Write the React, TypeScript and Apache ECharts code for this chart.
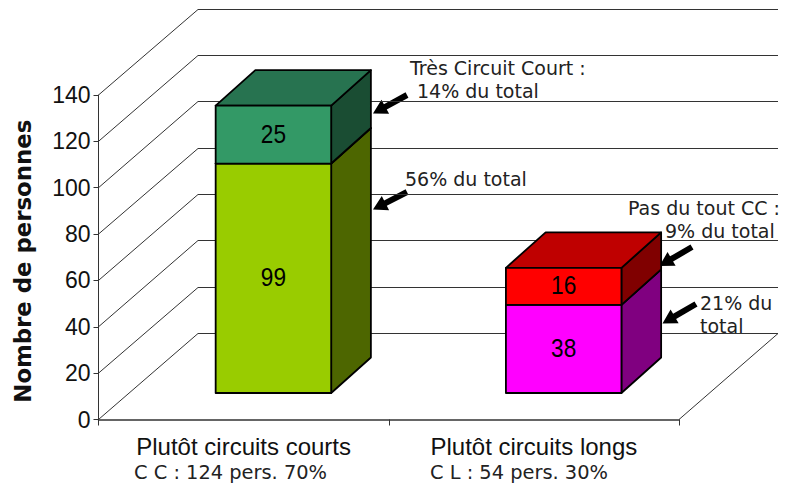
import React, { useEffect, useRef } from "react";
import * as echarts from "echarts";

const categories = ["Plutôt circuits courts", "Plutôt circuits longs"];
const subLabels = ["C C : 124 pers. 70%", "C L : 54 pers. 30%"];
const lowerValues = [99, 38];
const upperValues = [25, 16];
const yTicks = [0, 20, 40, 60, 80, 100, 120, 140];
const yTitle = "Nombre de personnes";
const notes = [
  "Très Circuit Court :",
  "14% du total",
  "56% du total",
  "Pas du tout CC :",
  "9% du total",
  "21% du",
  "total",
];

const SANS = '"Liberation Sans", Arial, sans-serif';
const VERD = '"DejaVu Sans", Verdana, sans-serif';

// perspective offsets (pixels)
const BACK = { x: 99.5, y: -86 };
const BAR_FRONT = { x: 29.8, y: -26.5 };
const BAR_DEPTH = { x: 39.7, y: -35.5 };
const BAR_WIDTH_RATIO = 0.398;
const WALL_RIGHT = 778;

const lowerFill = ["#99CC00", "#FF00FF"];
const lowerSide = ["#4D6600", "#800080"];
const lowerTop = ["#739900", "#BF00BF"];
const upperFill = ["#339966", "#FF0000"];
const upperSide = ["#1A4D33", "#800000"];
const upperTop = ["#277350", "#BF0000"];

function arrow(tx: number, ty: number, px: number, py: number) {
  const L = Math.hypot(px - tx, py - ty);
  const ux = (px - tx) / L;
  const uy = (py - ty) / L;
  const nx = -uy;
  const ny = ux;
  const hl = 14;
  const sw = 3;
  const hw = 8;
  const bx = px - ux * hl;
  const by = py - uy * hl;
  return {
    type: "polygon",
    silent: true,
    shape: {
      points: [
        [tx + nx * sw, ty + ny * sw],
        [bx + nx * sw, by + ny * sw],
        [bx + nx * hw, by + ny * hw],
        [px, py],
        [bx - nx * hw, by - ny * hw],
        [bx - nx * sw, by - ny * sw],
        [tx - nx * sw, ty - ny * sw],
      ],
    },
    style: { fill: "#000" },
  };
}

function note(text: string, x: number, y: number, size = 19) {
  return {
    type: "text",
    silent: true,
    x,
    y,
    style: {
      text,
      fill: "#222",
      font: `${size}px ${VERD}`,
      verticalAlign: "middle",
      align: "left",
    },
  };
}

function makeBarRender(fills: string[], sides: string[], tops: string[]) {
  return (params: any, api: any) => {
    const idx = api.value(0);
    const low = api.value(1);
    const high = api.value(2);
    const base = api.coord([idx, low]);
    const head = api.coord([idx, high]);
    const w = api.size([1, 0])[0] * BAR_WIDTH_RATIO;
    const x0 = base[0] + BAR_FRONT.x - w / 2;
    const x1 = x0 + w;
    const yb = base[1] + BAR_FRONT.y;
    const yt = head[1] + BAR_FRONT.y;
    const d = BAR_DEPTH;
    const border = { stroke: "#000", lineWidth: 1.8, lineJoin: "round" };
    return {
      type: "group",
      children: [
        {
          type: "polygon",
          shape: { points: [[x1, yb], [x1 + d.x, yb + d.y], [x1 + d.x, yt + d.y], [x1, yt]] },
          style: { fill: sides[idx], ...border },
        },
        {
          type: "polygon",
          shape: { points: [[x0, yt], [x1, yt], [x1 + d.x, yt + d.y], [x0 + d.x, yt + d.y]] },
          style: { fill: tops[idx], ...border },
        },
        {
          type: "rect",
          shape: { x: x0, y: yt, width: w, height: yb - yt },
          style: { fill: fills[idx], ...border },
        },
        {
          type: "text",
          x: (x0 + x1) / 2,
          y: (yt + yb) / 2 - 1,
          scaleX: 0.87,
          style: {
            text: String(high - low),
            fill: "#000",
            font: `26px ${SANS}`,
            align: "center",
            verticalAlign: "middle",
          },
        },
      ],
    };
  };
}

function wallRender(params: any, api: any) {
  const v = api.value(1);
  const cs = params.coordSys;
  const y = api.coord([0, v])[1];
  const xf = cs.x;
  const xb = xf + BACK.x;
  const yb = Math.round(y + BACK.y - 0.5) + 0.5;
  const line = { stroke: "#333", lineWidth: 1, fill: "none" };
  const children: any[] = [
    { type: "polyline", shape: { points: [[xf, y], [xb, yb], [WALL_RIGHT, yb]] }, style: line },
  ];
  if (v === 0) {
    children.push({
      type: "line",
      shape: { x1: cs.x + cs.width, y1: y, x2: WALL_RIGHT, y2: yb },
      style: line,
    });
  }
  return { type: "group", children };
}

export default function App() {
  const ref = useRef<HTMLDivElement>(null);
  useEffect(() => {
    const chart = echarts.init(ref.current!, undefined, { renderer: "svg" });
    chart.setOption({
      animation: false,
      backgroundColor: "#fff",
      grid: { left: 98.5, right: 114, top: 95, bottom: 63.5, containLabel: false },
      xAxis: {
        type: "category",
        data: categories,
        boundaryGap: true,
        axisLine: { lineStyle: { color: "#333", width: 1.5 } },
        axisTick: { show: true, length: 6, alignWithLabel: false, lineStyle: { color: "#333" } },
        axisLabel: {
          color: "#111",
          fontFamily: SANS,
          fontSize: 24,
          margin: 15,
          interval: 0,
        },
      },
      yAxis: {
        type: "value",
        min: 0,
        max: 140,
        interval: 20,
        name: yTitle,
        nameLocation: "middle",
        nameGap: 64,
        nameRotate: 90,
        nameTextStyle: {
          color: "#111",
          fontFamily: VERD,
          fontWeight: "bold",
          fontSize: 22.8,
          padding: [0, 8, 0, 0],
        },
        axisLine: { show: true, lineStyle: { color: "#333", width: 1 } },
        axisTick: { show: true, length: 5, lineStyle: { color: "#333" } },
        axisLabel: { color: "#111", fontFamily: SANS, fontSize: 23, margin: 8 },
        splitLine: { show: false },
      },
      series: [
        {
          type: "custom",
          silent: true,
          clip: false,
          z: 1,
          renderItem: wallRender,
          encode: { x: 0, y: 1 },
          data: yTicks.map((t) => [0, t]),
        },
        {
          type: "custom",
          silent: true,
          clip: false,
          z: 2,
          renderItem: makeBarRender(lowerFill, lowerSide, lowerTop),
          encode: { x: 0, y: [1, 2] },
          data: lowerValues.map((v, i) => [i, 0, v]),
        },
        {
          type: "custom",
          silent: true,
          clip: false,
          z: 3,
          renderItem: makeBarRender(upperFill, upperSide, upperTop),
          encode: { x: 0, y: [1, 2] },
          data: upperValues.map((v, i) => [i, lowerValues[i], lowerValues[i] + v]),
        },
      ],
      graphic: {
        elements: [
          note(notes[0], 410, 68),
          note(notes[1], 417, 91),
          note(notes[2], 405, 179),
          note(notes[3], 628, 208),
          note(notes[4], 665, 231),
          note(notes[5], 700, 303),
          note(notes[6], 700, 326),
          note(subLabels[0], 134, 472, 19.4),
          note(subLabels[1], 430, 472, 19.4),
          arrow(407, 95, 373, 113.5),
          arrow(407, 192, 373, 209.5),
          arrow(692, 247, 659.5, 266),
          arrow(696, 304, 662.5, 323.5),
        ],
      },
    });
    return () => chart.dispose();
  }, []);
  return (
    <div
      ref={ref}
      style={{ position: "fixed", left: 0, top: 0, width: 793, height: 483, background: "#fff" }}
    />
  );
}
